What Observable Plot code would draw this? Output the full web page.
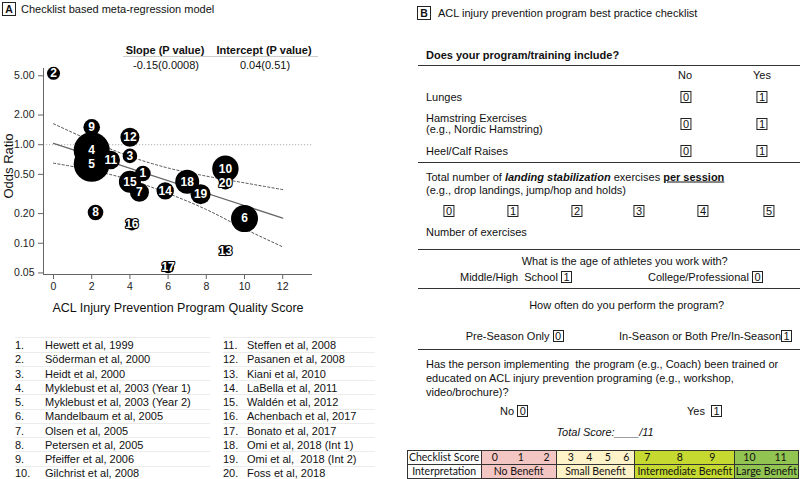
<!DOCTYPE html>
<html><head><meta charset="utf-8">
<script src="https://cdn.jsdelivr.net/npm/d3@7"></script>
<script src="https://cdn.jsdelivr.net/npm/@observablehq/plot@0.6"></script>
<style>
html,body{margin:0;padding:0;background:#fff;}
#root{position:relative;width:800px;height:479px;overflow:hidden;font-family:"Liberation Sans",Arial,sans-serif;color:#111;font-size:11px;}
.a{position:absolute;white-space:nowrap;line-height:1;}
.c{transform:translate(-50%,-50%);}
.l{transform:translate(0,-50%);}
.bx{display:inline-block;border:1px solid #222;padding:0 1.5px;line-height:10px;font-size:11px;}
.hr{position:absolute;height:0;border-top:1.3px solid #333;}
.pl{position:absolute;width:12px;height:12px;border:1px solid #222;font-weight:bold;font-size:10.5px;line-height:12px;text-align:center;}
.cell{position:absolute;box-sizing:border-box;border:1px solid #333;font-family:Lato,"Open Sans",sans-serif;font-size:10.5px;line-height:12px;display:flex;align-items:center;}
</style>
</head><body><div id="root"></div>
<script>
// ---------- Panel A data ----------
const studyId = [1,2,3,4,5,6,7,8,9,10,11,12,13,14,15,16,17,18,19,20];
const studyNames = ["Hewett et al, 1999","Söderman et al, 2000","Heidt et al, 2000","Myklebust et al, 2003 (Year 1)","Myklebust et al, 2003 (Year 2)","Mandelbaum et al, 2005","Olsen et al, 2005","Petersen et al, 2005","Pfeiffer et al, 2006","Gilchrist et al, 2008","Steffen et al, 2008","Pasanen et al, 2008","Kiani et al, 2010","LaBella et al, 2011","Waldén et al, 2012","Achenbach et al, 2017","Bonato et al, 2017","Omi et al, 2018 (Int 1)","Omi et al,  2018 (Int 2)","Foss et al, 2018"];
const qualityScore = [4.68,0,4.0,2.0,2.0,10.0,4.5,2.2,2.0,9.0,3.0,4.0,9.0,5.85,4.0,4.1,6.0,7.0,7.7,9.0];
const oddsRatio = [0.51,5.3,0.77,0.88,0.64,0.178,0.33,0.205,1.50,0.57,0.70,1.19,0.084,0.34,0.42,0.155,0.057,0.42,0.315,0.41];
const studyWeight = [15.2,10.6,13.3,81,81,45.6,22.6,15.2,17.2,43.6,21.2,22.6,7.6,18.9,30.3,9,9,36,25,11.2];
const fitScore = [0, 12];
const fitOR = [1.03, 0.18];
const bandScore = [0,2,4,6,8,10,12];
const bandUpper = [1.63,1.09,0.76,0.58,0.48,0.41,0.35];
const bandLower = [0.65,0.55,0.44,0.32,0.22,0.14,0.092];
const xTicks = [0,2,4,6,8,10,12];
const yTicks = [0.05,0.1,0.2,0.5,1,2,5];
const statHeaders = ["Slope (P value)","Intercept (P value)"];
const statValues = ["-0.15(0.0008)","0.04(0.51)"];

// ---------- Panel B data ----------
const yesNoItems = [["Lunges"],["Hamstring Exercises","(e.g., Nordic Hamstring)"],["Heel/Calf Raises"]];
const landingCounts = [0,1,2,3,4,5];
const scoreBands = [
  {label:"No Benefit", scores:[0,1,2]},
  {label:"Small Benefit", scores:[3,4,5,6]},
  {label:"Intermediate Benefit", scores:[7,8,9]},
  {label:"Large Benefit", scores:[10,11]}
];
const bandColors = ["#f4c6c3","#fef2c8","#c5d930","#92c451"];

const studies = studyId.map((id,i)=>({id, score: qualityScore[i], or: oddsRatio[i], w: studyWeight[i]}));
const fitPts = fitScore.map((x,i)=>({x, y: fitOR[i]}));
const upperPts = bandScore.map((x,i)=>({x, y: bandUpper[i]}));
const lowerPts = bandScore.map((x,i)=>({x, y: bandLower[i]}));

const root = document.getElementById("root");
function put(html, x, y, cls, extra) {
  const d = document.createElement("div");
  d.className = "a " + (cls||"");
  d.style.left = x + "px"; d.style.top = y + "px";
  if (extra) Object.assign(d.style, extra);
  d.innerHTML = html;
  root.appendChild(d);
  return d;
}
function hr(x1, x2, y, style) {
  const d = document.createElement("div");
  d.className = "hr";
  d.style.left = x1 + "px"; d.style.width = (x2-x1) + "px"; d.style.top = y + "px";
  if (style) Object.assign(d.style, style);
  root.appendChild(d);
}
const bx = v => `<span class="bx">${v}</span>`;

// ---------- Panel A chart ----------
const xDomain = [-0.524, 13.56];
const yDomain = [0.0482, 5.93];
const chart = Plot.plot({
  width: 330, height: 320,
  marginLeft: 43, marginRight: 18, marginTop: 68, marginBottom: 46,
  style: {fontFamily: '"Liberation Sans", Arial, sans-serif', fontSize: "10.5px", color: "#222", background: "transparent", overflow: "visible"},
  x: {domain: xDomain},
  y: {type: "log", domain: yDomain},
  r: {type: "sqrt", domain: [0, 100], range: [0, 20]},
  marks: [
    Plot.ruleY([1], {stroke: "#b0b0b0", strokeDasharray: "1.2,1.8", strokeWidth: 1}),
    Plot.line(upperPts, {x: "x", y: "y", stroke: "#555", strokeWidth: 1, strokeDasharray: "2.2,2.2", curve: "monotone-x"}),
    Plot.line(lowerPts, {x: "x", y: "y", stroke: "#555", strokeWidth: 1, strokeDasharray: "2.2,2.2", curve: "monotone-x"}),
    Plot.line(fitPts, {x: "x", y: "y", stroke: "#666", strokeWidth: 1.2}),
    Plot.ruleX([xDomain[0]], {stroke: "#666"}),
    Plot.ruleY([yDomain[0]], {stroke: "#666"}),
    Plot.axisX({ticks: xTicks, tickFormat: "d", tickSize: 5, tickPadding: 3, label: null, stroke: "#666"}),
    Plot.axisY({ticks: yTicks, tickFormat: ".2f", tickSize: 5, tickPadding: 4, label: null, stroke: "#666"}),
    Plot.dot(studies, {x: "score", y: "or", r: "w", fill: "black"}),
    Plot.text(studies, {x: "score", y: "or", text: d => String(d.id), fill: "white", stroke: "black", strokeWidth: 2.2, fontWeight: "bold", fontSize: 12, fontFamily: '"Liberation Sans", Arial, sans-serif'})
  ]
});
chart.style.position = "absolute"; chart.style.left = "0px"; chart.style.top = "0px";
root.appendChild(chart);

// Panel A title and annotations
const pa = document.createElement("div"); pa.className = "pl"; pa.style.left = "2px"; pa.style.top = "2px"; pa.textContent = "A"; root.appendChild(pa);
put("Checklist based meta-regression model", 21, 8.5, "l");
put(statHeaders[0], 165, 50, "c", {fontWeight: "bold"});
put(statHeaders[1], 264, 50, "c", {fontWeight: "bold"});
hr(123, 318, 55.5, {borderTop: "1px solid #ccc"});
put(statValues[0], 166, 65, "c");
put(statValues[1], 265, 65, "c");
put("ACL Injury Prevention Program Quality Score", 178, 307.5, "c", {fontSize: "12.5px"});
put("Odds Ratio", 8, 166, "", {fontSize: "13px", transform: "translate(-50%,-50%) rotate(-90deg)"});

// Study list
for (let k = 0; k <= 10; k++) {
  hr(15, 210, 337.3 + 14.26*k, {borderTop: "1px solid #ececec"});
  hr(223, 375, 337.3 + 14.26*k, {borderTop: "1px solid #ececec"});
}
studyNames.forEach((name, i) => {
  const col = i < 10 ? 0 : 1;
  const row = i % 10;
  const y = 345 + 14.26*row;
  put(studyId[i] + ".", col ? 223 : 15, y, "l");
  put(name.replace(/  /g, "&nbsp; "), col ? 247 : 45, y, "l");
});

// ---------- Panel B ----------
const pb = document.createElement("div"); pb.className = "pl"; pb.style.left = "417px"; pb.style.top = "6px"; pb.textContent = "B"; root.appendChild(pb);
put("ACL injury prevention program best practice checklist", 438, 12.5, "l");
put("Does your program/training include?", 426, 55, "l", {fontWeight: "bold"});
hr(418, 800, 64.5);
put("No", 685, 75, "c");
put("Yes", 762, 75, "c");
const itemY = [96.7, 123.5, 151];
yesNoItems.forEach((lines, i) => {
  if (lines.length === 1) put(lines[0], 426, itemY[i], "l");
  else { put(lines[0], 426, itemY[i]-5.8, "l"); put(lines[1], 426, itemY[i]+5.8, "l"); }
  put(bx(0), 686, itemY[i], "c");
  put(bx(1), 762, itemY[i], "c");
});
hr(418, 800, 161.8);
put('Total number of <b><i>landing stabilization</i></b> exercises <b><u>per session</u></b>', 426, 176.7, "l");
put("(e.g., drop landings, jump/hop and holds)", 426, 190, "l");
const landX = [449, 513, 577, 639, 703, 769];
landingCounts.forEach((v, i) => put(bx(v), landX[i], 210.7, "c"));
put("Number of exercises", 426, 232.3, "l");
hr(418, 800, 249);
put("What is the age of athletes you work with?", 624.7, 261, "c");
put("Middle/High&nbsp; School " + bx(1), 460, 276.7, "l");
put("College/Professional " + bx(0), 648, 276.7, "l");
hr(418, 800, 288);
put("How often do you perform the program?", 626.7, 305, "c");
put("Pre-Season Only " + bx(0), 465.7, 335.7, "l");
put("In-Season or Both Pre/In-Season" + bx(1), 619, 335.7, "l");
hr(418, 800, 349);
put("Has the person implementing&nbsp; the program (e.g., Coach) been trained or", 426, 364.3, "l");
put("educated on ACL injury prevention programing (e.g., workshop,", 426, 378.3, "l");
put("video/brochure)?", 426, 391.7, "l");
put("No " + bx(0), 500, 411, "l");
put("Yes&nbsp; " + bx(1), 687, 411, "l");
put("Total Score:____/11", 605, 432.3, "c", {fontStyle: "italic"});

// Score table
const colEdges = [406.7, 480.7, 555.7, 634.3, 734.3, 797.7];
const rowEdges = [450, 463.7, 478];
const pads = [[10,6],[11,5],[9,19],[8,11]];
function cell(x1, x2, y1, y2, html, bg, style) {
  const d = document.createElement("div");
  d.className = "cell";
  d.style.left = x1 + "px"; d.style.top = y1 + "px";
  d.style.width = (x2 - x1 + 1) + "px"; d.style.height = (y2 - y1 + 1) + "px";
  d.style.background = bg;
  if (style) Object.assign(d.style, style);
  d.innerHTML = html;
  root.appendChild(d);
}
cell(colEdges[0], colEdges[1], rowEdges[0], rowEdges[1], "Checklist Score", "#fff", {justifyContent: "center"});
cell(colEdges[0], colEdges[1], rowEdges[1], rowEdges[2], "Interpretation", "#fff", {justifyContent: "center"});
scoreBands.forEach((b, i) => {
  cell(colEdges[i+1], colEdges[i+2], rowEdges[0], rowEdges[1],
    b.scores.map(s => `<span>${s}</span>`).join(""), bandColors[i],
    {justifyContent: "space-between", paddingLeft: pads[i][0] + "px", paddingRight: pads[i][1] + "px"});
  cell(colEdges[i+1], colEdges[i+2], rowEdges[1], rowEdges[2], b.label, bandColors[i], {justifyContent: "center"});
});
</script>
</body></html>
